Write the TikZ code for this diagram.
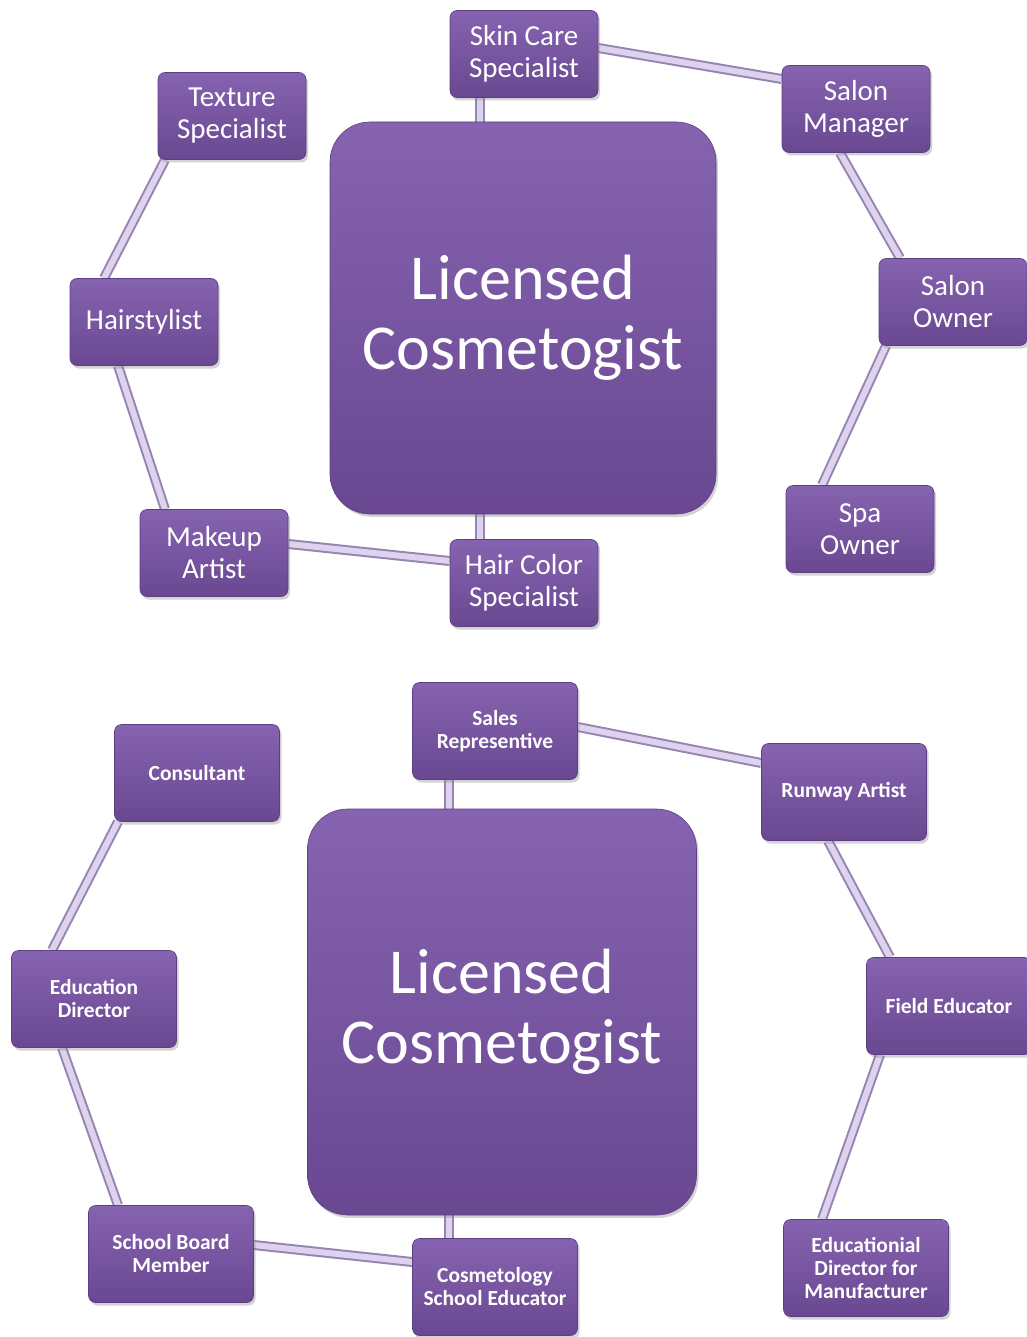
\documentclass[tikz,border=0pt]{standalone}
\usepackage{fontspec}
\setmainfont{Carlito}
\usetikzlibrary{shadows}
\pgfdeclarelayer{background}
\pgfsetlayers{background,main}
\definecolor{boxtop}{HTML}{8663B0}
\definecolor{boxbot}{HTML}{694891}
\definecolor{boxedge}{HTML}{5C3F80}
\definecolor{linkout}{HTML}{9585B0}
\definecolor{linkin}{HTML}{DDD3EE}
\tikzset{
  rolebox/.style={rectangle, rounded corners=7pt, top color=boxtop, bottom color=boxbot,
    draw=boxedge, line width=0.6pt, text=white, align=center, inner sep=0pt,
    drop shadow={shadow xshift=2pt, shadow yshift=-3pt, opacity=0.35}},
  bigrole/.style={rolebox, minimum width=148pt, minimum height=87pt,
    font=\fontsize{29}{32}\selectfont},
  smallrole/.style={rolebox, minimum width=165pt, minimum height=97pt,
    font=\bfseries\fontsize{21.5}{23}\selectfont},
  corebox/.style={rolebox, rounded corners=40pt, font=\fontsize{64}{70}\selectfont},
  link/.style={draw=linkout, line width=2pt, double=linkin, double distance=6pt}
}
\begin{document}
\begin{tikzpicture}[x=1pt,y=-1pt]
  \useasboundingbox (0,0) rectangle (1026,1337);
  % upper ring
  \node[corebox, minimum width=386pt, minimum height=392pt] (core) at (523,318) {Licensed\\Cosmetogist};
  \node[bigrole] (skin) at (524,54) {Skin Care\\Specialist};
  \node[bigrole] (manager) at (856,109) {Salon\\Manager};
  \node[bigrole] (owner) at (953,302) {Salon\\Owner};
  \node[bigrole] (spa) at (860,529) {Spa\\Owner};
  \node[bigrole] (color) at (524,583) {Hair Color\\Specialist};
  \node[bigrole] (makeup) at (214,553) {Makeup\\Artist};
  \node[bigrole] (stylist) at (144,322) {Hairstylist};
  \node[bigrole] (texture) at (232,116) {Texture\\Specialist};
  % lower ring
  \node[corebox, minimum width=389pt, minimum height=406pt] (core2) at (502,1012) {Licensed\\Cosmetogist};
  \node[smallrole] (sales) at (495,731) {Sales\\Representive};
  \node[smallrole] (runway) at (844,792) {Runway Artist};
  \node[smallrole] (field) at (949,1006) {Field Educator};
  \node[smallrole] (manuf) at (866,1268) {Educationial\\Director for\\Manufacturer};
  \node[smallrole] (school) at (495,1287) {Cosmetology\\School Educator};
  \node[smallrole] (board) at (171,1254) {School Board\\Member};
  \node[smallrole] (eddir) at (94,999) {Education\\Director};
  \node[smallrole] (consult) at (197,773) {Consultant};
  \begin{pgfonlayer}{background}
    \draw[link] ([xshift=-44pt]skin.center) -- ([xshift=-44pt]skin.center |- core.center);
    \draw[link] ([xshift=-44pt]color.center) -- ([xshift=-44pt]color.center |- core.center);
    \draw[link] ([yshift=6pt]skin.east) -- ([yshift=30pt]manager.west);
    \draw[link] ([xshift=-16pt]manager.south) -- ([xshift=-53pt]owner.north);
    \draw[link] ([xshift=-67pt]owner.south) -- ([xshift=-38pt]spa.north);
    \draw[link] ([yshift=22pt]color.west) -- ([yshift=9pt]makeup.east);
    \draw[link] ([xshift=-49pt]makeup.north) -- ([xshift=-26pt]stylist.south);
    \draw[link] ([xshift=-40pt]stylist.north) -- ([xshift=-67pt]texture.south);
    \draw[link] ([xshift=-46pt]sales.center) -- ([xshift=-46pt]sales.center |- core2.center);
    \draw[link] ([xshift=-46pt]school.center) -- ([xshift=-46pt]school.center |- core2.center);
    \draw[link] ([yshift=4pt]sales.east) -- ([yshift=29pt]runway.west);
    \draw[link] ([xshift=-16pt]runway.south) -- ([xshift=-59pt]field.north);
    \draw[link] ([xshift=-69pt]field.south) -- ([xshift=-44pt]manuf.north);
    \draw[link] ([yshift=25pt]school.west) -- ([yshift=9pt]board.east);
    \draw[link] ([xshift=-53pt]board.north) -- ([xshift=-32pt]eddir.south);
    \draw[link] ([xshift=-42pt]eddir.north) -- ([xshift=-79pt]consult.south);
  \end{pgfonlayer}
\end{tikzpicture}
\end{document}
